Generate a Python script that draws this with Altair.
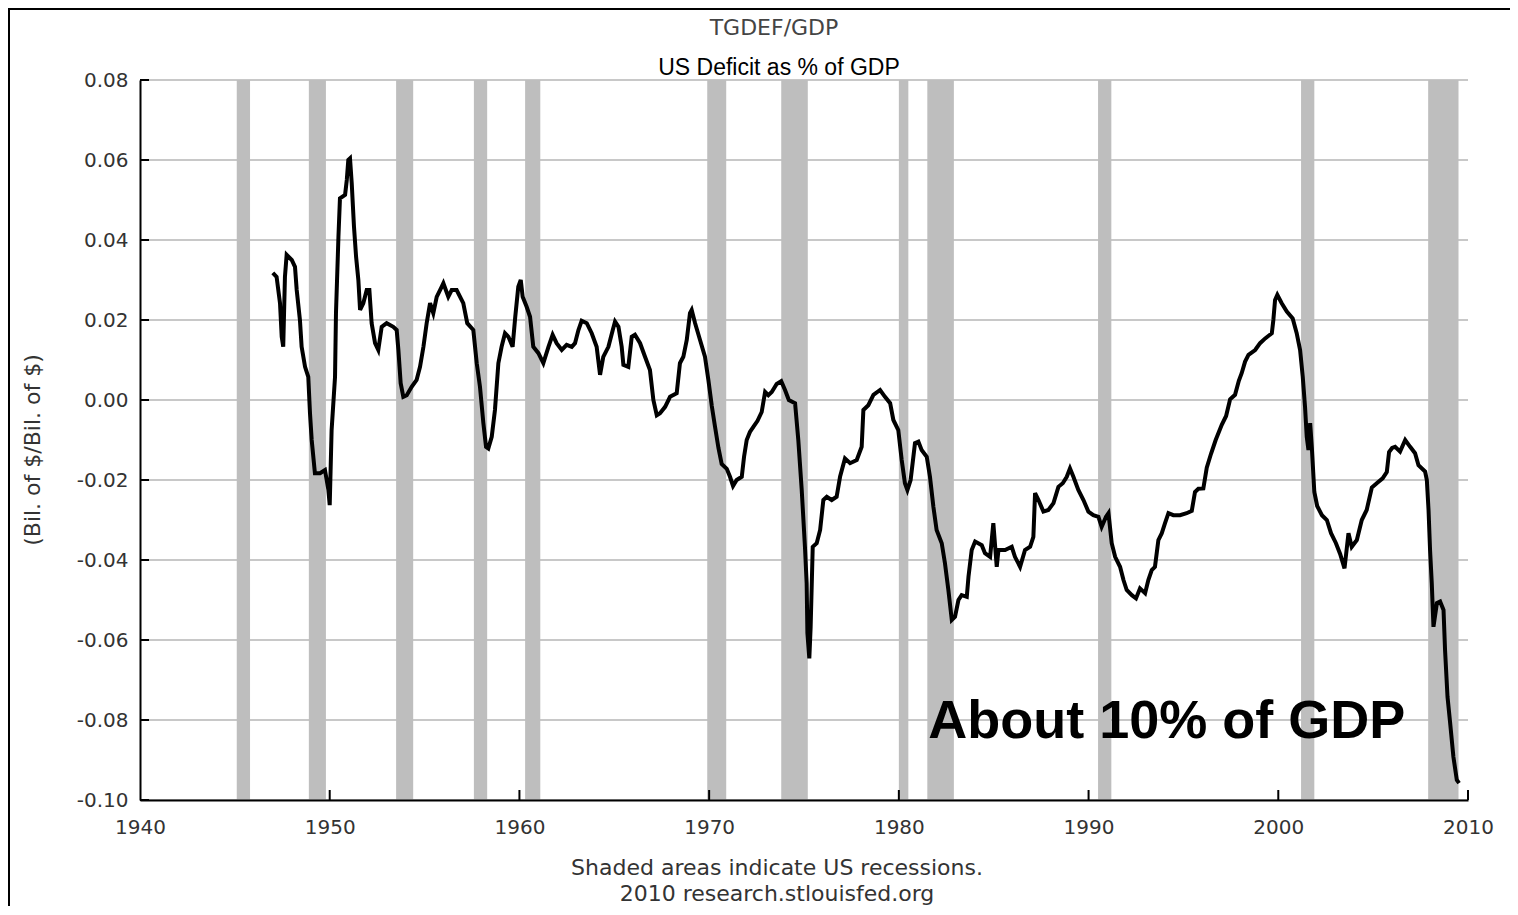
import altair as alt
import pandas as pd

# ---- data ----
years = [1947.00, 1947.20, 1947.38, 1947.47, 1947.55, 1947.64, 1947.73, 1948.00, 1948.17, 1948.26,
         1948.43, 1948.52, 1948.70, 1948.87, 1948.96, 1949.05, 1949.22, 1949.49, 1949.75, 1949.93,
         1950.00, 1950.10, 1950.28, 1950.33, 1950.46, 1950.54, 1950.81, 1950.90, 1950.98, 1951.07,
         1951.16, 1951.28, 1951.39, 1951.51, 1951.60, 1951.77, 1951.95, 1952.09, 1952.21, 1952.39,
         1952.56, 1952.74, 1953.00, 1953.35, 1953.53, 1953.62, 1953.74, 1953.88, 1954.06, 1954.32,
         1954.58, 1954.76, 1954.94, 1955.11, 1955.29, 1955.46, 1955.64, 1955.90, 1955.99, 1956.25,
         1956.43, 1956.69, 1957.04, 1957.25, 1957.57, 1957.75, 1957.92, 1958.10, 1958.24, 1958.36,
         1958.54, 1958.71, 1958.89, 1959.06, 1959.24, 1959.42, 1959.64, 1959.78, 1959.94, 1960.07,
         1960.17, 1960.38, 1960.56, 1960.73, 1961.00, 1961.26, 1961.53, 1961.75, 1961.96, 1962.23,
         1962.49, 1962.76, 1962.93, 1963.11, 1963.28, 1963.55, 1963.81, 1964.07, 1964.25, 1964.42,
         1964.69, 1964.92, 1965.04, 1965.22, 1965.39, 1965.48, 1965.74, 1965.92, 1966.09, 1966.36,
         1966.62, 1966.88, 1967.06, 1967.24, 1967.41, 1967.68, 1967.94, 1968.29, 1968.46, 1968.64,
         1968.82, 1968.99, 1969.08, 1969.26, 1969.52, 1969.78, 1969.96, 1970.14, 1970.31, 1970.49,
         1970.66, 1970.93, 1971.10, 1971.26, 1971.45, 1971.72, 1971.84, 1971.98, 1972.15, 1972.33,
         1972.55, 1972.77, 1972.95, 1973.12, 1973.30, 1973.56, 1973.80, 1974.00, 1974.20, 1974.53,
         1974.70, 1974.88, 1975.05, 1975.14, 1975.18, 1975.28, 1975.35, 1975.46, 1975.67, 1975.85,
         1976.02, 1976.20, 1976.46, 1976.72, 1976.90, 1977.16, 1977.43, 1977.78, 1978.04, 1978.13,
         1978.39, 1978.66, 1979.01, 1979.27, 1979.54, 1979.71, 1979.97, 1980.15, 1980.32, 1980.45,
         1980.62, 1980.85, 1981.03, 1981.20, 1981.47, 1981.64, 1981.82, 1981.99, 1982.26, 1982.43,
         1982.61, 1982.79, 1982.96, 1983.14, 1983.31, 1983.58, 1983.67, 1983.84, 1984.02, 1984.37,
         1984.54, 1984.81, 1984.98, 1985.16, 1985.25, 1985.60, 1985.95, 1986.12, 1986.39, 1986.65,
         1986.92, 1987.09, 1987.18, 1987.36, 1987.62, 1987.88, 1988.15, 1988.41, 1988.64, 1988.85,
         1989.02, 1989.20, 1989.46, 1989.73, 1989.99, 1990.25, 1990.52, 1990.69, 1990.92, 1991.05,
         1991.22, 1991.40, 1991.66, 1991.84, 1992.01, 1992.28, 1992.50, 1992.71, 1992.98, 1993.15,
         1993.33, 1993.50, 1993.68, 1993.86, 1994.03, 1994.21, 1994.47, 1994.82, 1995.17, 1995.44,
         1995.61, 1995.79, 1996.05, 1996.23, 1996.45, 1996.70, 1997.02, 1997.25, 1997.46, 1997.72,
         1997.92, 1998.07, 1998.25, 1998.43, 1998.78, 1999.04, 1999.31, 1999.66, 1999.74, 1999.83,
         1999.95, 2000.18, 2000.45, 2000.76, 2000.97, 2001.15, 2001.29, 2001.41, 2001.50, 2001.59,
         2001.68, 2001.77, 2001.90, 2002.05, 2002.30, 2002.56, 2002.78, 2003.04, 2003.26, 2003.49,
         2003.70, 2003.87, 2004.14, 2004.40, 2004.66, 2004.93, 2005.19, 2005.50, 2005.72, 2005.84,
         2006.00, 2006.16, 2006.42, 2006.69, 2006.95, 2007.21, 2007.39, 2007.74, 2007.83, 2007.92,
         2008.00, 2008.09, 2008.18, 2008.36, 2008.53, 2008.71, 2008.79, 2008.92, 2009.06, 2009.23,
         2009.41, 2009.53]

values = [0.0318, 0.0308, 0.0242, 0.0158, 0.0133, 0.0308, 0.0363, 0.0350, 0.0333, 0.0275,
          0.0200, 0.0133, 0.0083, 0.0058, -0.0033, -0.0100, -0.0183, -0.0183, -0.0175, -0.0225,
          -0.0263, -0.0075, 0.0058, 0.0217, 0.0408, 0.0504, 0.0513, 0.0550, 0.0600, 0.0604,
          0.0542, 0.0433, 0.0358, 0.0300, 0.0225, 0.0242, 0.0275, 0.0275, 0.0192, 0.0142,
          0.0125, 0.0183, 0.0192, 0.0183, 0.0175, 0.0125, 0.0042, 0.0008, 0.0012, 0.0033,
          0.0050, 0.0083, 0.0133, 0.0192, 0.0242, 0.0217, 0.0258, 0.0283, 0.0292, 0.0258,
          0.0275, 0.0275, 0.0242, 0.0192, 0.0175, 0.0092, 0.0033, -0.0058, -0.0117, -0.0121,
          -0.0092, -0.0025, 0.0092, 0.0133, 0.0167, 0.0158, 0.0133, 0.0208, 0.0283, 0.0300,
          0.0258, 0.0233, 0.0208, 0.0133, 0.0117, 0.0092, 0.0133, 0.0163, 0.0142, 0.0125,
          0.0138, 0.0133, 0.0142, 0.0175, 0.0198, 0.0192, 0.0167, 0.0133, 0.0063, 0.0108,
          0.0133, 0.0175, 0.0196, 0.0183, 0.0133, 0.0088, 0.0083, 0.0158, 0.0163, 0.0142,
          0.0108, 0.0075, 0.0000, -0.0038, -0.0033, -0.0017, 0.0008, 0.0017, 0.0092, 0.0108,
          0.0150, 0.0217, 0.0225, 0.0192, 0.0150, 0.0108, 0.0050, -0.0015, -0.0067, -0.0120,
          -0.0160, -0.0172, -0.0192, -0.0215, -0.0200, -0.0192, -0.0142, -0.0100, -0.0080, -0.0067,
          -0.0052, -0.0030, 0.0020, 0.0012, 0.0020, 0.0040, 0.0047, 0.0025, 0.0000, -0.0008,
          -0.0100, -0.0225, -0.0367, -0.0458, -0.0583, -0.0646, -0.0567, -0.0367, -0.0358, -0.0325,
          -0.0250, -0.0242, -0.0250, -0.0242, -0.0192, -0.0146, -0.0158, -0.0150, -0.0117, -0.0025,
          -0.0013, 0.0013, 0.0025, 0.0008, -0.0008, -0.0050, -0.0075, -0.0150, -0.0208, -0.0225,
          -0.0200, -0.0108, -0.0104, -0.0125, -0.0142, -0.0192, -0.0267, -0.0325, -0.0358, -0.0408,
          -0.0475, -0.0550, -0.0542, -0.0500, -0.0488, -0.0492, -0.0442, -0.0375, -0.0354, -0.0363,
          -0.0383, -0.0392, -0.0308, -0.0417, -0.0375, -0.0375, -0.0367, -0.0392, -0.0417, -0.0375,
          -0.0367, -0.0342, -0.0233, -0.0250, -0.0279, -0.0275, -0.0258, -0.0217, -0.0208, -0.0192,
          -0.0171, -0.0192, -0.0225, -0.0250, -0.0279, -0.0288, -0.0292, -0.0317, -0.0292, -0.0283,
          -0.0358, -0.0392, -0.0417, -0.0450, -0.0475, -0.0488, -0.0496, -0.0471, -0.0483, -0.0450,
          -0.0425, -0.0417, -0.0350, -0.0333, -0.0308, -0.0283, -0.0288, -0.0288, -0.0283, -0.0277,
          -0.0230, -0.0222, -0.0221, -0.0169, -0.0135, -0.0100, -0.0062, -0.0040, 0.0002, 0.0013,
          0.0048, 0.0067, 0.0096, 0.0113, 0.0125, 0.0142, 0.0154, 0.0167, 0.0200, 0.0250,
          0.0263, 0.0242, 0.0221, 0.0204, 0.0167, 0.0125, 0.0058, -0.0017, -0.0092, -0.0125,
          -0.0058, -0.0120, -0.0230, -0.0265, -0.0288, -0.0300, -0.0333, -0.0358, -0.0385, -0.0421,
          -0.0333, -0.0367, -0.0350, -0.0300, -0.0275, -0.0219, -0.0208, -0.0196, -0.0180, -0.0130,
          -0.0120, -0.0117, -0.0129, -0.0100, -0.0117, -0.0133, -0.0163, -0.0179, -0.0200, -0.0275,
          -0.0375, -0.0458, -0.0567, -0.0508, -0.0504, -0.0525, -0.0625, -0.0742, -0.0808, -0.0892,
          -0.0950, -0.0958]

rec_start = [1945.1, 1948.9, 1953.5, 1957.6, 1960.3, 1969.9, 1973.8, 1980.0, 1981.5, 1990.5, 2001.2, 2007.9]
rec_end = [1945.8, 1949.8, 1954.4, 1958.3, 1961.1, 1970.9, 1975.2, 1980.5, 1982.9, 1991.2, 2001.9, 2009.5]

x_ticks = [1940, 1950, 1960, 1970, 1980, 1990, 2000, 2010]
y_ticks = [0.08, 0.06, 0.04, 0.02, 0.00, -0.02, -0.04, -0.06, -0.08, -0.10]

title_text = "TGDEF/GDP"
subtitle_text = "US Deficit as % of GDP"
y_title = "(Bil. of $/Bil. of $)"
note1 = "Shaded areas indicate US recessions."
note2 = "2010 research.stlouisfed.org"
annot_text = ["About 10% of GDP"]
annot_x = [1981.55]
annot_y = [-0.0845]

# ---- frames ----
series = pd.DataFrame({"year": years, "value": values})
recs = pd.DataFrame({"start": rec_start, "end": rec_end})
xt = pd.DataFrame({"year": x_ticks[1:]})
yt = pd.DataFrame({"value": y_ticks})
ann = pd.DataFrame({"year": annot_x, "value": annot_y, "label": annot_text})

W, H = 1328, 720
PAD = {"left": 132, "top": 72, "right": 42, "bottom": 106}
FONT = "DejaVu Sans"

xscale = alt.Scale(domain=[1940, 2010], nice=False, zero=False)
yscale = alt.Scale(domain=[-0.10, 0.08], nice=False, zero=False)

xaxis = alt.Axis(values=x_ticks, format="d", title=None, grid=False, tickSize=0,
                 labelPadding=17, labelFontSize=20, labelFont=FONT, labelColor="#333333",
                 domainColor="black", domainWidth=2, labelFlush=False, labelOverlap=False,
                 zindex=1)
yaxis = alt.Axis(values=y_ticks, title=None, grid=False, tickSize=0,
                 labelExpr="(datum.value < 0 ? '-' : '') + format(abs(datum.value), '.2f')",
                 labelPadding=12, labelFontSize=20, labelFont=FONT, labelColor="#333333",
                 domainColor="black", domainWidth=2, labelOverlap=False, zindex=1)


def X(field):
    return alt.X(field, type="quantitative", scale=xscale, axis=xaxis)


def Y(field):
    return alt.Y(field, type="quantitative", scale=yscale, axis=yaxis)


one = alt.Data(values=[{"a": 1}])

grid = alt.Chart(yt).mark_rule(color="#c8c8c8", strokeWidth=2).encode(
    y=Y("value"), x=alt.value(0), x2=alt.value(W))

bars = alt.Chart(recs).mark_rect(color="#bebebe").encode(
    x=X("start"), x2="end", y=alt.value(0), y2=alt.value(H))

line = alt.Chart(series).mark_line(color="black", strokeWidth=4, strokeJoin="miter").encode(
    x=X("year"), y=Y("value"))

yticks = alt.Chart(yt).mark_rule(color="black", strokeWidth=2).encode(
    y=Y("value"), x=alt.value(0), x2=alt.value(9))

xticks = alt.Chart(xt).mark_rule(color="black", strokeWidth=2).encode(
    x=X("year"), y=alt.value(H), y2=alt.value(H - 10))

annot = alt.Chart(ann).mark_text(font="Liberation Sans", fontWeight="bold", fontSize=54,
                                 align="left", baseline="alphabetic", color="black").encode(
    x=X("year"), y=Y("value"), text="label:N")


def label(text, x, y, size, font=FONT, color="#333333", angle=0):
    kw = dict(text=text, font=font, fontSize=size, color=color, align="center",
              baseline="alphabetic")
    if angle:
        kw["angle"] = angle
        kw["baseline"] = "middle"
    return alt.Chart(one).mark_text(**kw).encode(x=alt.value(x), y=alt.value(y))


t1 = label(title_text, 634, -45, 22, color="#444444")
t2 = label(subtitle_text, 639, -5, 23, font="Liberation Sans", color="black")
t3 = label(y_title, -107, 370, 22, angle=270)
t4 = label(note1, 637, 795, 22)
t5 = label(note2, 637, 821, 22)

frame_left = alt.Chart(one).mark_rule(color="black", strokeWidth=2).encode(
    x=alt.value(-131), y=alt.value(-72), y2=alt.value(840))
frame_top = alt.Chart(one).mark_rule(color="black", strokeWidth=2).encode(
    x=alt.value(-132), x2=alt.value(1390), y=alt.value(-71))

chart = alt.layer(
    grid, bars, line, yticks, xticks, annot, t1, t2, t3, t4, t5, frame_left, frame_top
).properties(
    width=W, height=H,
    padding=PAD,
    autosize=alt.AutoSizeParams(type="none"),
    background="white",
).configure_view(strokeWidth=0)

chart.save("out.html", embed_options={"renderer": "svg", "actions": False})
